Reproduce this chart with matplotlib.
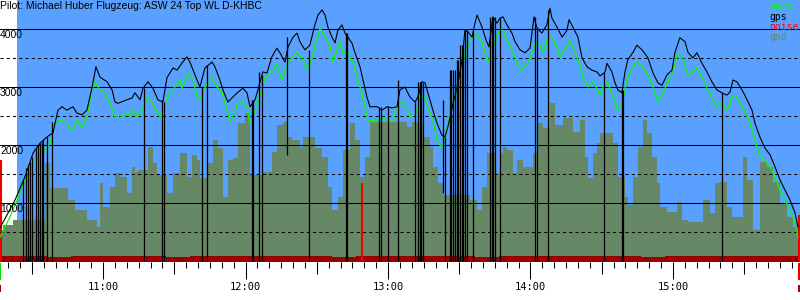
import matplotlib.pyplot as plt
from matplotlib.ticker import FixedLocator, FuncFormatter

title = "Pilot: Michael Huber Flugzeug: ASW 24 Top WL D-KHBC"

# time in minutes after 10:00, altitude in m
gps_t = [16.6, 22.9, 27.1, 30.5, 33.4, 36.4, 38.9, 41.0, 42.7, 44.8, 47.3, 49.0, 51.1, 53.2,
         55.3, 57.0, 58.7, 61.7, 63.8, 65.0, 66.3, 70.1, 72.2, 73.4, 75.6, 76.8, 78.9, 81.0,
         83.1, 85.2, 86.9, 89.5, 91.1, 93.2, 95.3, 96.6, 98.7, 100.8, 102.9, 105.9, 107.1,
         109.2, 110.5, 112.6, 114.7, 116.8, 118.9, 120.6, 121.9, 124.0, 125.2, 127.3, 129.0,
         131.1, 133.2, 134.5, 136.6, 137.9, 140.0, 141.7, 142.9, 145.0, 147.1, 149.2, 150.5,
         152.2, 153.5, 154.7, 156.4, 157.7, 158.9, 160.6, 161.9, 163.1, 164.8, 166.1, 168.2,
         169.5, 171.1, 172.4, 175.4, 177.5, 179.6, 181.7, 183.8, 185.0, 187.1, 189.2, 191.4,
         192.6, 194.3, 195.6, 196.8, 198.9, 200.6, 202.7, 204.0, 205.2, 207.4, 209.5, 211.2,
         212.4, 213.7, 215.4, 216.6, 217.5, 219.6, 221.3, 222.5, 224.2, 225.9, 227.2, 228.4,
         230.1, 232.2, 233.5, 235.6, 237.7, 239.8, 241.5, 242.7, 244.8, 246.9, 248.2, 249.0,
         251.2, 253.3, 255.4, 256.2, 257.9, 260.0, 261.7, 263.8, 265.9, 268.0, 269.3, 271.4,
         272.2, 274.3, 275.6, 276.8, 278.5, 279.8, 281.0, 283.2, 284.8, 287.0, 289.5, 291.6,
         293.7, 295.4, 297.5, 299.6, 300.8, 302.9, 305.1, 306.3, 308.4, 310.1, 312.2, 314.3,
         316.4, 318.5, 320.6, 322.7, 324.0, 325.3, 326.9, 329.1, 331.2, 333.3, 334.5, 336.6,
         338.7, 340.9, 343.0, 345.1, 347.2, 349.3, 351.4, 352.6]
gps_alt = [570, 1050, 1450, 1860, 2030, 2140, 2210, 2600, 2660, 2600, 2660, 2550, 2520, 2600,
           2980, 3350, 3170, 3090, 2950, 2740, 2720, 2780, 2810, 2900, 2780, 2980, 3090, 2980,
           2780, 2740, 3160, 3330, 3290, 3410, 3520, 3430, 3210, 3000, 3330, 3430, 3350,
           3120, 2950, 2740, 2830, 2910, 2980, 2900, 2660, 2780, 2950, 3260, 3240,
           3520, 3670, 3590, 3430, 3690, 3860, 3930, 3780, 3640, 3720, 4070, 4240,
           4330, 4240, 4030, 3860, 3760, 3980, 4070, 3930, 3860, 3760, 3590, 3350,
           3120, 2830, 2660, 2660, 2600, 2660, 2640, 2660, 2950, 3000, 2830, 2740,
           2830, 3090, 3070, 2900, 2600, 2380, 2170, 2140, 2310, 2720, 3070, 3470,
           3980, 3950, 3860, 4100, 4240, 4030, 3810, 3690, 4210, 4100, 4190, 4210,
           4070, 3930, 3780, 3640, 3590, 3670, 4210, 4020, 3930, 4070, 4360, 4190,
           4030, 3860, 3980, 4160, 4030, 3860, 3500, 3350, 3290, 3260, 3190, 3260,
           3410, 3260, 3070, 2950, 2900, 3260, 3470, 3600, 3720, 3640, 3500, 3240,
           3070, 3030, 3210, 3290, 3590, 3850, 3780, 3600, 3500, 3590, 3410, 3260,
           3090, 2950, 2900, 2860, 2910, 3120, 3090, 2950, 2780, 2600, 2380, 2140,
           1950, 1830, 1620, 1400, 1220, 1050, 830, 590]

baro_t = [16.6, 20.8, 25.0, 28.0, 30.5, 34.7, 37.7, 39.8, 41.9, 44.0, 46.9, 49.0, 51.1, 53.2,
          55.3, 56.6, 58.7, 60.8, 62.9, 65.0, 67.1, 69.2, 71.3, 72.6, 74.3, 76.4, 78.5, 80.6,
          82.7, 84.0, 86.1, 88.2, 90.3, 92.4, 93.2, 94.5, 95.8, 97.9, 99.6, 100.8, 103.8,
          105.9, 108.0, 110.1, 111.3, 113.5, 115.6, 116.8, 118.9, 120.6, 121.9, 124.0, 126.1,
          128.2, 131.1, 133.2, 135.3, 137.5, 139.6, 141.7, 143.8, 145.9, 148.0, 150.1, 151.4,
          153.5, 155.6, 156.8, 158.5, 159.8, 161.0, 163.1, 165.3, 167.4, 169.5, 171.6, 173.7,
          175.8, 177.9, 180.0, 182.1, 184.2, 185.0, 187.1, 189.2, 191.4, 193.5, 194.7, 196.8,
          198.9, 201.0, 202.7, 204.0, 206.1, 208.2, 210.3, 212.4, 214.5, 217.5, 219.6, 222.1,
          224.2, 226.3, 228.4, 230.1, 232.6, 235.6, 237.7, 239.8, 241.9, 243.2, 245.3, 247.4,
          249.0, 251.2, 252.4, 254.5, 256.6, 258.7, 260.8, 262.1, 264.2, 266.3, 268.4, 269.3,
          271.4, 272.6, 274.7, 276.8, 278.5, 280.6, 282.7, 284.8, 287.0, 289.5, 291.6, 293.7,
          295.8, 297.9, 300.0, 302.1, 304.2, 306.3, 308.4, 310.1, 312.2, 314.3, 316.4, 318.5,
          320.6, 322.7, 324.8, 326.1, 328.2, 330.3, 332.4, 334.5, 336.6, 338.7, 340.9, 343.0,
          345.1, 347.2, 349.3, 351.4, 352.6]
baro_alt = [410, 760, 1170, 1520, 1690, 1860, 2030, 2380, 2430, 2400, 2260, 2430, 2290, 2480,
            2950, 3090, 2950, 2900, 2720, 2480, 2470, 2520, 2520, 2600, 2470, 2600, 2810, 2740,
            2570, 2480, 2720, 2910, 3000, 3120, 2980, 3090, 3240, 3120, 2830, 2780, 3070,
            3160, 3000, 2910, 2740, 2400, 2600, 2720, 2740, 2660, 2380, 2600, 2860,
            3160, 3260, 3410, 3120, 3380, 3520, 3590, 3500, 3290, 3500, 3860, 4020,
            3860, 3690, 3430, 3640, 3780, 3590, 3590, 3410, 3120, 2810, 2400, 2430,
            2430, 2480, 2430, 2430, 2660, 2740, 2720, 2480, 2520, 2780, 2860, 2660,
            2430, 2030, 1970, 2140, 2520, 2810, 3210, 3550, 3810, 3930, 3760, 3430,
            3670, 3930, 3980, 3810, 3600, 3290, 3350, 3500, 3720, 3780, 3600, 3860,
            3860, 3690, 3520, 3670, 3810, 3590, 3380, 3170, 3000, 3090, 2950, 2860,
            3090, 3070, 2830, 2600, 2720, 3120, 3330, 3430, 3350, 3210, 3000, 2740,
            2900, 3090, 3260, 3590, 3500, 3210, 3260, 3330, 3170, 2980, 2810, 2660,
            2720, 2600, 2830, 2860, 2740, 2570, 2380, 2090, 1790, 1740, 1620, 1450,
            1220, 1050, 880, 660, 410]

gnd_t = [16.6, 17.9, 22.1, 35.5, 37.7, 45.2, 48.2, 53.2, 57.4, 58.7, 60.0, 62.9, 65.0, 67.1,
         70.1, 72.2, 73.4, 74.7, 78.9, 81.0, 82.7, 86.9, 89.5, 92.4, 95.3, 97.4, 99.6, 100.8,
         103.8, 106.3, 108.4, 110.5, 112.6, 114.7, 116.8, 119.8, 121.9, 127.3, 131.1, 133.2,
         135.8, 137.5, 139.6, 142.9, 144.2, 149.2, 152.2, 154.7, 156.4, 158.9, 161.0, 164.0,
         166.1, 168.2, 170.3, 172.4, 185.0, 188.0, 190.1, 192.2, 194.7, 197.7, 198.9, 201.0,
         203.1, 214.5, 217.5, 219.6, 221.7, 225.0, 227.2, 228.4, 230.1, 232.6, 234.3, 236.8,
         241.0, 243.2, 245.3, 248.2, 250.3, 253.7, 257.9, 260.8, 263.0, 264.2, 266.3, 268.0,
         269.3, 274.7, 276.8, 279.8, 281.0, 283.2, 285.3, 287.4, 289.1, 291.2, 293.3, 294.5,
         297.5, 301.7, 303.8, 306.3, 312.6, 315.6, 317.7, 319.8, 322.7, 324.8, 329.5, 331.2,
         333.7, 336.6, 339.6, 342.1, 345.1, 348.0, 350.5, 352.6, 353.5]
gnd_alt = [530, 620, 710, 1690, 1260, 1050, 880, 710, 590, 1350, 930, 1280, 1520, 1450,
           1170, 1620, 1530, 1570, 1970, 1690, 1480, 1170, 1520, 1860, 1450, 1830, 1740, 1430,
           1690, 2090, 1950, 1100, 1740, 1780, 2380, 2550, 1480, 1530, 1880, 2350,
           2400, 2140, 2090, 1970, 2140, 1950, 1790, 1280, 880, 1100, 1910, 2380,
           2090, 1450, 1790, 2400, 2400, 2310, 2400, 2380, 2140, 1970, 1620, 1350,
           1140, 1050, 880, 1280, 1860, 1520, 1860, 1970, 1910, 1520, 1740, 1620,
           1860, 2380, 2290, 2720, 2350, 2470, 2220, 2430, 1790, 1430, 1860, 2030,
           2210, 2030, 1450, 1100, 970, 1450, 1970, 2430, 2210, 1790, 1350, 930,
           850, 1020, 710, 670, 1050, 830, 1350, 1360, 930, 760, 1790, 1400,
           530, 1710, 1620, 1360, 1000, 760, 590, 480, 480]

# gps dropouts: time, top, bottom
drop_t = [26.3, 27.5, 28.4, 29.2, 30.1, 31.8, 32.6, 33.4, 34.3, 34.7, 36.4, 38.5, 77.2, 84.8,
          85.7, 101.7, 103.8, 122.7, 123.1, 125.7, 126.9, 137.5, 146.7, 162.3, 162.7, 176.2,
          177.0, 180.0, 184.0, 191.4, 192.6, 193.3, 194.0, 194.7, 203.1, 204.0, 206.1, 206.7,
          207.4, 208.2, 209.0, 209.5, 210.3, 211.2, 211.6, 212.4, 213.3, 215.8, 223.0, 223.6,
          224.2, 225.0, 227.2, 241.9, 242.7, 247.4, 270.9, 278.5, 278.9, 320.6]
drop_top = [1400, 1600, 1650, 1700, 1800, 1950, 2000, 2030, 2050, 2080, 2140, 2400, 2980, 2780,
            2740, 3000, 3380, 2780, 2780, 3260, 3210, 3860, 3640, 3930, 3930, 2650,
            2650, 2650, 3120, 2740, 3090, 3090, 3090, 3070, 2780, 2140, 3290, 3290,
            3290, 3290, 3470, 3470, 3720, 3720, 3720, 3980, 3980, 3980, 4210, 4210,
            4210, 4210, 4190, 4210, 4020, 4330, 3260, 2950, 2950, 2900]
drop_bottom = [0] * 21 + [1830] + [0] * 12 + [1170] + [0] * 25

noise_t = [16.6, 26.6, 36.6, 46.6, 56.6, 66.6, 76.6, 86.6, 96.6, 106.6, 116.6, 126.6, 136.6,
           146.6, 156.6, 166.6, 176.6, 186.6, 196.6, 206.6, 216.6, 226.6, 236.6, 246.6, 256.6,
           266.6, 276.6, 286.6, 296.6, 306.6, 316.6, 326.6, 336.6, 346.6, 353.5]
noise_lvl = [85, 80, 75, 80, 78, 85, 80, 75, 82, 80, 85, 78, 80, 82, 76, 85, 80, 78, 82, 80,
             76, 85, 80, 82, 78, 80, 85, 76, 80, 82, 78, 80, 82, 85, 85]
spike_t = [16.9, 169.0, 352.9]
spike_top = [1740, 1345, 790]

grid_solid = [1000, 2000, 3000, 4000]
grid_dashed = [500, 1500, 2500, 3500]
hours = [60, 120, 180, 240, 300]
hour_labels = ["11:00", "12:00", "13:00", "14:00", "15:00"]

t0, t1 = 16.6, 353.5
blue = "#5aa0ff"
gndc = "#668866"

fig = plt.figure(figsize=(8, 3), dpi=100)
ax = fig.add_axes([0, 38 / 300, 1, 262 / 300])
ax.set_facecolor(blue)
ax.set_xlim(t0, t1)
ax.set_ylim(-17, 4500)
for s in ax.spines.values():
    s.set_visible(False)

ax.axvspan(t0, 23.8, color="white", zorder=0.5, lw=0)
ax.fill_between(gnd_t, -20, gnd_alt, step="post", color=gndc, lw=0, zorder=1)
ax.fill_between(noise_t, -20, noise_lvl, step="post", color="#9a0000", lw=0, zorder=1.5)
ax.vlines(spike_t, 0, spike_top, color="#ee0000", lw=1.5, zorder=1.6)

for v in grid_solid:
    ax.axhline(v, color="black", lw=0.75, zorder=2)
for v in grid_dashed:
    ax.axhline(v, color="black", lw=0.75, dashes=(3, 3), zorder=2)
for v in grid_solid:
    ax.text(0.0, v - 25, str(v), transform=ax.get_yaxis_transform(), va="top", ha="left",
            fontsize=7.5, family="Liberation Sans", zorder=6)

ax.plot(baro_t, baro_alt, color="#00ff00", lw=0.9, zorder=3)
ax.plot(gps_t, gps_alt, color="black", lw=0.8, zorder=4)
ax.vlines(drop_t, drop_bottom, drop_top, color="black", lw=0.9, zorder=4)

# time axis
ax.yaxis.set_visible(False)
ax.xaxis.set_major_locator(FixedLocator(hours))
ax.xaxis.set_major_formatter(FuncFormatter(lambda x, p: hour_labels[hours.index(int(round(x)))]))
ax.xaxis.set_minor_locator(FixedLocator([m for m in range(20, 355, 5) if m % 60]))
ax.tick_params(axis="x", which="major", length=12.2, width=0.75, pad=2, labelsize=7.5)
ax.tick_params(axis="x", which="minor", length=4.3, width=0.75)
for lab in ax.get_xticklabels():
    lab.set_family("DejaVu Sans Mono")
half = [m for m in range(30, 355, 60)]
ax.vlines(half, 0, -12 / 262, transform=ax.get_xaxis_transform(), color="black",
          lw=0.75, clip_on=False)
ax.vlines([16.8], -0.003, -18 / 262, transform=ax.get_xaxis_transform(), color="#00dd00",
          lw=1.5, clip_on=False)
ax.vlines([16.8, 353.2], -23 / 262, -30 / 262, transform=ax.get_xaxis_transform(),
          color="#aa0000", lw=1.5, clip_on=False)
ax.vlines([353.2], -0.003, -18 / 262, transform=ax.get_xaxis_transform(), color="#ee0000",
          lw=1.5, clip_on=False)

fig.text(0.0, 0.997, title, va="top", ha="left", fontsize=7.5, family="Liberation Sans")
legend = [("baro", "#00ff00"), ("gps", "black"), ("noise", "#ff0000"), ("gnd", gndc)]
for i, (name, col) in enumerate(legend):
    fig.text(769 / 800, 1 - (7 + 10 * i) / 300, name, color=col, va="center", ha="left",
             fontsize=7, family="DejaVu Sans Mono")

fig.savefig("out.png", dpi=100)
